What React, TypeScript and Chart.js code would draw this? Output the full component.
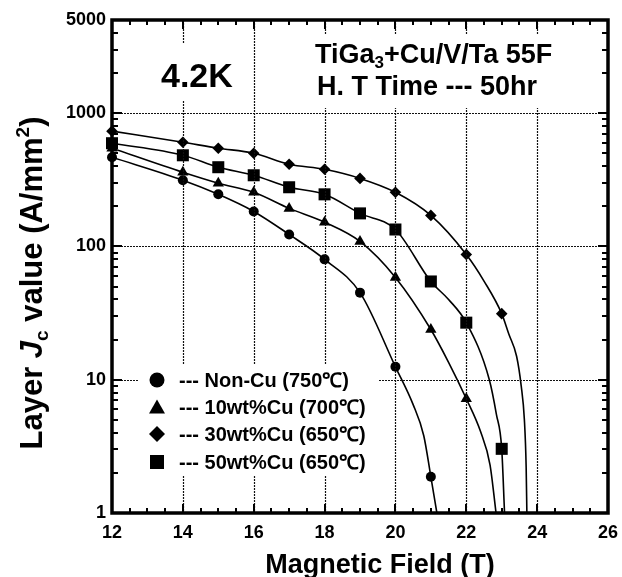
import React, { useEffect, useRef } from 'react';
import { Chart, registerables } from 'chart.js';

Chart.register(...registerables);

const FAM = "'Liberation Sans', Arial, Helvetica, sans-serif";

// Axis ticks
const X_TICKS = [12, 14, 16, 18, 20, 22, 24, 26];
const Y_TICKS = [1, 10, 100, 1000, 5000];

// Series labels
const SERIES_LABELS = [
  '--- Non-Cu (750\u2103)',
  '--- 10wt%Cu (700\u2103)',
  '--- 30wt%Cu (650\u2103)',
  '--- 50wt%Cu (650\u2103)',
];

// Measured points (field in T, Jc in A/mm^2)
const NONCU_X = [12, 14, 15, 16, 17, 18, 19, 20, 21];
const NONCU_Y = [467, 314, 246, 183, 123, 80, 45, 12.5, 1.87];
const CU10_X = [12, 14, 15, 16, 17, 18, 19, 20, 21, 22];
const CU10_Y = [546, 360, 298, 255, 193, 152, 109, 58.5, 23.8, 7.2];
const CU30_X = [12, 14, 15, 16, 17, 18, 19, 20, 21, 22, 23];
const CU30_Y = [733, 605, 546, 500, 414, 379, 324, 255, 171, 87, 31.3];
const CU50_X = [12, 14, 15, 16, 17, 18, 19, 20, 21, 22, 23];
const CU50_Y = [595, 483, 393, 342, 278, 246, 177, 134, 54.6, 26.8, 3.03];

// Extra points (beyond / between markers)
const NONCU_FIT_X = [20.5, 20.8, 21.17];
const NONCU_FIT_Y = [6.5, 3.8, 1];
const CU10_FIT_X = [21.5, 22.4, 22.67, 22.84];
const CU10_FIT_Y = [13.5, 4.1, 2.3, 1];
const CU30_FIT_X = [22.5, 23.2, 23.42, 23.55, 23.64, 23.69, 23.71];
const CU30_FIT_Y = [55, 22, 15, 9, 5, 2.2, 1];
const CU50_FIT_X = [21.5, 22.65, 22.85, 23.08];
const CU50_FIT_Y = [40, 10, 5.5, 1];

const pts = (xs: number[], ys: number[]) => xs.map((x, i) => ({ x, y: ys[i] }));
const fitPts = (xs: number[], ys: number[], fx: number[], fy: number[]) => {
  const all = pts(xs, ys).concat(pts(fx, fy));
  const seen = new Map<number, { x: number; y: number }>();
  all.forEach((p) => seen.set(p.x, p));
  return Array.from(seen.values()).sort((a, b) => a.x - b.x);
};

function drawShape(ctx: CanvasRenderingContext2D, style: string, x: number, y: number, s: number) {
  ctx.beginPath();
  if (style === 'circle') {
    ctx.arc(x, y, s / 2, 0, Math.PI * 2);
  } else if (style === 'triangle') {
    const h = s * 0.8;
    ctx.moveTo(x, y - h / 2 - 1);
    ctx.lineTo(x + s / 2, y + h / 2);
    ctx.lineTo(x - s / 2, y + h / 2);
    ctx.closePath();
  } else if (style === 'diamond') {
    ctx.moveTo(x, y - s / 2);
    ctx.lineTo(x + s / 2, y);
    ctx.lineTo(x, y + s / 2);
    ctx.lineTo(x - s / 2, y);
    ctx.closePath();
  } else {
    ctx.rect(x - s / 2, y - s / 2, s, s);
  }
  ctx.fill();
}

function drawSegs(ctx: CanvasRenderingContext2D, segs: { t: string; f: string; dy: number }[], x: number, y: number, align: 'left' | 'center') {
  let total = 0;
  segs.forEach((s) => {
    ctx.font = s.f;
    total += ctx.measureText(s.t).width;
  });
  let cx = align === 'center' ? x - total / 2 : x;
  ctx.textAlign = 'left';
  ctx.textBaseline = 'alphabetic';
  segs.forEach((s) => {
    ctx.font = s.f;
    ctx.fillText(s.t, cx, y + s.dy);
    cx += ctx.measureText(s.t).width;
  });
}

const decorPlugin = {
  id: 'decor',
  afterDraw(chart: any) {
    const ctx: CanvasRenderingContext2D = chart.ctx;
    const { left, right, top, bottom } = chart.chartArea;
    const xs = chart.scales.x;
    const ys = chart.scales.y;
    ctx.save();

    // dotted grid
    ctx.strokeStyle = '#111';
    ctx.lineWidth = 1.2;
    ctx.setLineDash([2, 1]);
    ctx.beginPath();
    X_TICKS.slice(1, -1).forEach((v) => {
      const px = Math.round(xs.getPixelForValue(v)) + 0.5;
      ctx.moveTo(px, top);
      ctx.lineTo(px, bottom);
    });
    Y_TICKS.slice(1, -1).forEach((v) => {
      const py = Math.round(ys.getPixelForValue(v)) + 0.5;
      ctx.moveTo(left, py);
      ctx.lineTo(right, py);
    });
    ctx.stroke();
    ctx.setLineDash([]);

    // white boxes behind annotations (hide grid)
    ctx.fillStyle = '#fff';
    ctx.fillRect(150, 43, 95, 57);
    ctx.fillRect(300, 35, 265, 73);
    ctx.fillRect(138, 364, 240, 111);

    ctx.fillStyle = '#000';
    ctx.strokeStyle = '#000';

    // inward ticks
    ctx.lineWidth = 2;
    ctx.beginPath();
    for (let v = X_TICKS[0]; v <= X_TICKS[X_TICKS.length - 1] + 1e-9; v += 0.5) {
      const px = Math.round(xs.getPixelForValue(v));
      const major = X_TICKS.includes(v);
      const L = major ? 9 : 5;
      ctx.moveTo(px, bottom);
      ctx.lineTo(px, bottom - L);
      ctx.moveTo(px, top);
      ctx.lineTo(px, top + L);
    }
    for (let d = 1; d <= 1000; d *= 10) {
      for (let m = 1; m <= 9; m++) {
        const v = d * m;
        if (v > 5000) break;
        const py = Math.round(ys.getPixelForValue(v));
        const L = m === 1 ? 10 : 6;
        ctx.moveTo(left, py);
        ctx.lineTo(left + L, py);
        ctx.moveTo(right, py);
        ctx.lineTo(right - L, py);
      }
    }
    ctx.stroke();

    // frame
    ctx.lineWidth = 3.5;
    ctx.strokeRect(left, top, right - left, bottom - top);

    // annotations
    ctx.font = `bold 34px ${FAM}`;
    ctx.textAlign = 'left';
    ctx.textBaseline = 'alphabetic';
    ctx.fillText('4.2K', 161, 87);

    const F1 = 27;
    drawSegs(
      ctx,
      [
        { t: 'TiGa', f: `bold ${F1}px ${FAM}`, dy: 0 },
        { t: '3', f: `bold ${Math.round(F1 * 0.62)}px ${FAM}`, dy: 5 },
        { t: '+Cu/V/Ta 55F', f: `bold ${F1}px ${FAM}`, dy: 0 },
      ],
      315,
      63,
      'left'
    );
    ctx.font = `bold 27px ${FAM}`;
    ctx.fillText('H. T Time --- 50hr', 317, 95);

    // legend
    const styles = ['circle', 'triangle', 'diamond', 'square'];
    const sizes = [15, 16, 16, 14];
    const rowsY = [380, 407, 434, 462];
    ctx.font = `bold 20px ${FAM}`;
    styles.forEach((st, i) => {
      drawShape(ctx, st, 157, rowsY[i], sizes[i]);
      ctx.fillText(SERIES_LABELS[i], 179, rowsY[i] + 7);
    });

    // axis titles
    ctx.font = `bold 27px ${FAM}`;
    ctx.textAlign = 'center';
    ctx.fillText('Magnetic Field (T)', 380, 573);

    ctx.save();
    ctx.translate(42, 283);
    ctx.rotate(-Math.PI / 2);
    const F = 31;
    drawSegs(
      ctx,
      [
        { t: 'Layer ', f: `bold ${F}px ${FAM}`, dy: 0 },
        { t: 'J', f: `italic bold ${F}px ${FAM}`, dy: 0 },
        { t: 'c', f: `bold ${Math.round(F * 0.62)}px ${FAM}`, dy: 6 },
        { t: ' value (A/mm', f: `bold ${F}px ${FAM}`, dy: 0 },
        { t: '2', f: `bold ${Math.round(F * 0.62)}px ${FAM}`, dy: -13 },
        { t: ')', f: `bold ${F}px ${FAM}`, dy: 0 },
      ],
      0,
      0,
      'center'
    );
    ctx.restore();

    ctx.restore();
  },
};

export default function App() {
  const ref = useRef<HTMLCanvasElement>(null);
  useEffect(() => {
    if (!ref.current) return;
    const markerDs = (label: string, xs: number[], ys: number[], style: string, r: number) => ({
      type: 'line' as const,
      label,
      data: pts(xs, ys),
      showLine: false,
      pointStyle: style,
      pointRadius: r,
      pointBackgroundColor: '#000',
      pointBorderColor: '#000',
      pointBorderWidth: 0,
      borderColor: '#000',
      clip: false as any,
      order: 0,
    });
    const fitDs = (label: string, data: { x: number; y: number }[]) => ({
      type: 'line' as const,
      label,
      data,
      borderColor: '#000',
      borderWidth: 1.6,
      pointRadius: 0,
      cubicInterpolationMode: 'monotone' as const,
      fill: false,
      order: 1,
    });
    const chart = new Chart(ref.current, {
      type: 'line',
      data: {
        datasets: [
          fitDs('fit0', fitPts(NONCU_X, NONCU_Y, NONCU_FIT_X, NONCU_FIT_Y)),
          fitDs('fit1', fitPts(CU10_X, CU10_Y, CU10_FIT_X, CU10_FIT_Y)),
          fitDs('fit2', fitPts(CU30_X, CU30_Y, CU30_FIT_X, CU30_FIT_Y)),
          fitDs('fit3', fitPts(CU50_X, CU50_Y, CU50_FIT_X, CU50_FIT_Y)),
          markerDs(SERIES_LABELS[0], NONCU_X, NONCU_Y, 'circle', 5),
          markerDs(SERIES_LABELS[1], CU10_X, CU10_Y, 'triangle', 6.5),
          markerDs(SERIES_LABELS[2], CU30_X, CU30_Y, 'rectRot', 5.8),
          markerDs(SERIES_LABELS[3], CU50_X, CU50_Y, 'rect', 8.5),
        ] as any,
      },
      options: {
        responsive: false,
        animation: false,
        devicePixelRatio: 1,
        layout: { padding: { left: 0, top: 20, right: 14, bottom: 0 } },
        plugins: { legend: { display: false }, tooltip: { enabled: false } },
        scales: {
          x: {
            type: 'linear',
            min: 12,
            max: 26,
            afterBuildTicks: (s: any) => {
              s.ticks = X_TICKS.map((v) => ({ value: v }));
            },
            ticks: {
              font: { family: FAM, size: 18, weight: 'bold' },
              color: '#000',
              padding: 9,
              maxRotation: 0,
              autoSkip: false,
            },
            grid: { display: false, drawTicks: false },
            border: { display: false },
            afterFit: (s: any) => {
              s.height = 64;
              s.paddingLeft = 0;
              s.paddingRight = 0;
            },
          },
          y: {
            type: 'logarithmic',
            min: 1,
            max: 5000,
            afterBuildTicks: (s: any) => {
              s.ticks = Y_TICKS.map((v) => ({ value: v }));
            },
            ticks: {
              font: { family: FAM, size: 18, weight: 'bold' },
              color: '#000',
              padding: 6,
              autoSkip: false,
              callback: (v: any) => String(v),
            },
            grid: { display: false, drawTicks: false },
            border: { display: false },
            afterFit: (s: any) => {
              s.width = 112;
              s.paddingTop = 0;
              s.paddingBottom = 0;
            },
          },
        },
      } as any,
      plugins: [decorPlugin],
    });
    return () => chart.destroy();
  }, []);
  return (
    <div style={{ position: 'fixed', left: 0, top: 0, width: 622, height: 577, background: '#fff' }}>
      <canvas ref={ref} width={622} height={577} style={{ width: 622, height: 577, display: 'block' }} />
    </div>
  );
}
